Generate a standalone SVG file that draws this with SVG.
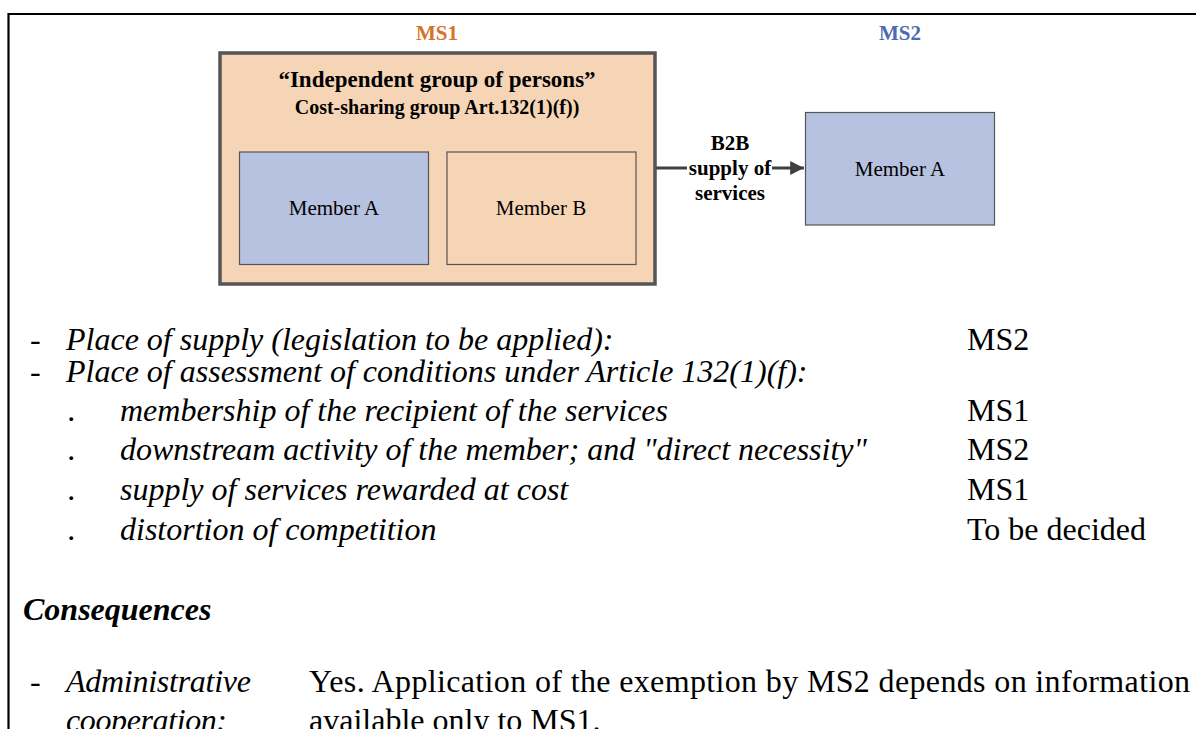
<svg xmlns="http://www.w3.org/2000/svg" width="1196" height="729" viewBox="0 0 1196 729">
  <style>
    .serif { font-family: "Liberation Serif", "Times New Roman", serif; fill: #000; }
    .hdr { font-size: 21px; font-weight: bold; text-anchor: middle; }
    .box-big { fill: #F6D5B6; stroke: #555; stroke-width: 3.5; }
    .peach { fill: #F6D5B6; stroke: #555; stroke-width: 1.2; }
    .blue { fill: #B7C2E1; stroke: #555; stroke-width: 1.2; }
    .lbl { font-size: 21px; text-anchor: middle; }
    .edge-lbl { font-size: 21px; font-weight: bold; text-anchor: middle; }
    .it { font-size: 32px; font-style: italic; }
    .rm { font-size: 32px; }
  </style>
  <defs>
    <marker id="arrow" viewBox="0 0 10 10" refX="10" refY="5" markerWidth="5.6" markerHeight="4.6" markerUnits="strokeWidth" orient="auto">
      <path d="M0,0 L10,5 L0,10 Z" fill="#404040"/>
    </marker>
  </defs>

  <rect width="1196" height="729" fill="#fff"/>

  <!-- page frame -->
  <path d="M8.5,729 V14 H1196" fill="none" stroke="#000" stroke-width="2.2"/>

  <!-- member state headings -->
  <text class="serif hdr" x="437" y="40" style="fill:#D4742C">MS1</text>
  <text class="serif hdr" x="900" y="40" style="fill:#4D6BB3">MS2</text>

  <!-- cost-sharing group -->
  <g id="group">
    <rect class="box-big" x="220" y="53" width="435" height="231"/>
    <text class="serif" x="437" y="87" font-size="23" font-weight="bold" text-anchor="middle">“Independent group of persons”</text>
    <text class="serif" x="437" y="114" font-size="20" font-weight="bold" text-anchor="middle">Cost-sharing group Art.132(1)(f))</text>
  </g>

  <g id="ms1-member-a">
    <rect class="blue" x="239.5" y="152" width="189" height="112.5"/>
    <text class="serif lbl" x="334" y="215">Member A</text>
  </g>

  <g id="ms1-member-b">
    <rect class="peach" x="447" y="152" width="189" height="112.5"/>
    <text class="serif lbl" x="541" y="215">Member B</text>
  </g>

  <g id="ms2-member-a">
    <rect class="blue" x="805.5" y="112.5" width="189" height="112.5"/>
    <text class="serif lbl" x="900" y="176">Member A</text>
  </g>

  <!-- connectors -->
  <g id="connectors">
    <line x1="656" y1="168" x2="804" y2="168" stroke="#404040" stroke-width="3" marker-end="url(#arrow)"/>
    <rect x="687" y="157" width="85" height="20" fill="#fff"/>
    <text class="serif edge-lbl" x="730" y="150">B2B</text>
    <text class="serif edge-lbl" x="730" y="175">supply of</text>
    <text class="serif edge-lbl" x="730" y="200">services</text>
  </g>

  <!-- assessment list -->
  <g id="assessment">
    <text class="serif rm" x="30" y="350">-</text>
    <text class="serif it" x="66" y="350">Place of supply (legislation to be applied):</text>
    <text class="serif rm" x="967" y="350">MS2</text>

    <text class="serif rm" x="30" y="382">-</text>
    <text class="serif it" x="66" y="382">Place of assessment of conditions under Article 132(1)(f):</text>

    <text class="serif it" x="68" y="421">.</text>
    <text class="serif it" x="120" y="421">membership of the recipient of the services</text>
    <text class="serif rm" x="967" y="421">MS1</text>

    <text class="serif it" x="68" y="460">.</text>
    <text class="serif it" x="120" y="460">downstream activity of the member; and "direct necessity"</text>
    <text class="serif rm" x="967" y="460">MS2</text>

    <text class="serif it" x="68" y="500">.</text>
    <text class="serif it" x="120" y="500">supply of services rewarded at cost</text>
    <text class="serif rm" x="967" y="500">MS1</text>

    <text class="serif it" x="68" y="540">.</text>
    <text class="serif it" x="120" y="540">distortion of competition</text>
    <text class="serif rm" x="967" y="540">To be decided</text>
  </g>

  <!-- consequences -->
  <g id="consequences">
    <text class="serif" x="23" y="620" font-size="32" font-weight="bold" font-style="italic">Consequences</text>
    <text class="serif rm" x="30" y="692">-</text>
    <text class="serif it" x="66" y="692" textLength="185">Administrative</text>
    <text class="serif it" x="66" y="731" textLength="161">cooperation:</text>
    <text class="serif rm" x="309" y="692" textLength="881">Yes. Application of the exemption by MS2 depends on information</text>
    <text class="serif rm" x="309" y="731">available only to MS1.</text>
  </g>
</svg>
